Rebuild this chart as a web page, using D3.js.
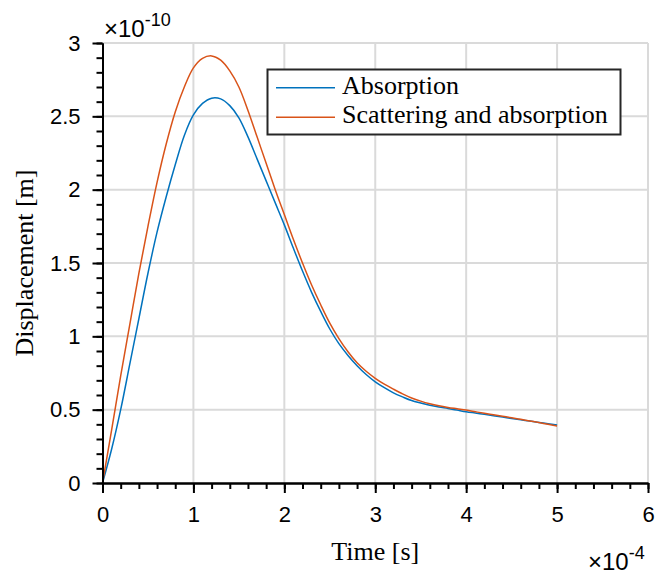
<!DOCTYPE html>
<html>
<head>
<meta charset="utf-8">
<script src="https://cdn.jsdelivr.net/npm/d3@7"></script>
<style>
  body { margin: 0; background: #fff; }
  svg { display: block; }
</style>
</head>
<body>
<div class="container"></div>
<script>
// time in units of 1e-4 s, displacement in units of 1e-10 m
const time = [0, 0.1, 0.2, 0.3, 0.4, 0.5, 0.6, 0.7, 0.8, 0.9,
    1.0, 1.1, 1.2, 1.3, 1.4, 1.5, 1.6, 1.7, 1.8, 1.9,
    2.0, 2.1, 2.2, 2.3, 2.4, 2.5, 2.6, 2.7, 2.8, 2.9,
    3.0, 3.1, 3.2, 3.3, 3.4, 3.5, 3.6, 3.7, 3.8, 3.9,
    4.0, 4.1, 4.2, 4.3, 4.4, 4.5, 4.6, 4.7, 4.8, 4.9, 5.0];

const absorption = [0, 0.23, 0.50, 0.81, 1.12, 1.43, 1.71, 1.95, 2.17, 2.37,
    2.51, 2.588, 2.624, 2.619, 2.573, 2.49, 2.36, 2.21, 2.06, 1.91,
    1.76, 1.60, 1.445, 1.30, 1.17, 1.05, 0.95, 0.87, 0.80, 0.74,
    0.69, 0.65, 0.615, 0.587, 0.562, 0.545, 0.53, 0.518, 0.508, 0.497,
    0.486, 0.477, 0.468, 0.459, 0.45, 0.44, 0.431, 0.422, 0.413, 0.404, 0.395];

const scattering = [0, 0.36, 0.73, 1.08, 1.43, 1.75, 2.05, 2.31, 2.53, 2.70,
    2.83, 2.895, 2.912, 2.883, 2.81, 2.70, 2.54, 2.36, 2.18, 2.00,
    1.83, 1.66, 1.50, 1.35, 1.215, 1.09, 0.985, 0.895, 0.82, 0.762,
    0.714, 0.674, 0.64, 0.608, 0.58, 0.558, 0.54, 0.526, 0.515, 0.506,
    0.497, 0.486, 0.475, 0.465, 0.455, 0.445, 0.434, 0.423, 0.412, 0.40, 0.389];

const seriesNames = ['Absorption', 'Scattering and absorption'];
const seriesColors = ['#0072BD', '#D95319'];

const xTicks = [0, 1, 2, 3, 4, 5, 6];
const yTicks = [0, 0.5, 1, 1.5, 2, 2.5, 3];
const xMinor = d3.range(0, 6.001, 0.2);
const yMinor = d3.range(0, 3.001, 0.1);

const w = 656;
const h = 574;
const margin = { top: 43, right: 8, bottom: 91, left: 102.5 };

const svg = d3.select('.container')
    .append('svg')
    .attr('width', w)
    .attr('height', h);

const x = d3.scaleLinear().domain([0, 6]).range([margin.left, w - margin.right]);
const y = d3.scaleLinear().domain([0, 3]).range([h - margin.bottom, margin.top]);

const sans = "'Liberation Sans', Arial, sans-serif";
const serif = "'Liberation Serif', 'Times New Roman', serif";

// grid
const grid = svg.append('g').attr('stroke', '#dadada').attr('stroke-width', 2);
grid.selectAll('.gx').data(xTicks.slice(1)).join('line')
    .attr('x1', d => x(d)).attr('x2', d => x(d))
    .attr('y1', y(0)).attr('y2', y(3));
grid.selectAll('.gy').data(yTicks.slice(1)).join('line')
    .attr('x1', x(0)).attr('x2', x(6))
    .attr('y1', d => y(d)).attr('y2', d => y(d));

// curves
const line = d3.line()
    .x(d => x(d[0]))
    .y(d => y(d[1]))
    .curve(d3.curveCatmullRom.alpha(0.5));

const series = [
    d3.zip(time, absorption),
    d3.zip(time, scattering)
];

svg.selectAll('.curve').data(series).join('path')
    .attr('class', 'curve')
    .attr('fill', 'none')
    .attr('stroke', (d, i) => seriesColors[i])
    .attr('stroke-width', 1.5)
    .attr('d', line);

// axes
const styleAxis = g => {
    g.selectAll('path.domain').attr('stroke', '#000').attr('stroke-width', 2);
    g.selectAll('.tick line').attr('stroke', '#000').attr('stroke-width', 2);
    g.selectAll('.tick text').attr('fill', '#000').style('font-family', sans).style('font-size', '22px');
};

svg.append('g')
    .attr('transform', `translate(0, ${y(0)})`)
    .call(d3.axisBottom(x).tickValues(xMinor).tickFormat('').tickSize(6).tickSizeOuter(0))
    .call(styleAxis);
svg.append('g')
    .attr('transform', `translate(0, ${y(0)})`)
    .call(d3.axisBottom(x).tickValues(xTicks).tickFormat(d3.format('~g')).tickSize(10).tickSizeOuter(0).tickPadding(13))
    .call(styleAxis);

svg.append('g')
    .attr('transform', `translate(${x(0)}, 0)`)
    .call(d3.axisLeft(y).tickValues(yMinor).tickFormat('').tickSize(6).tickSizeOuter(0))
    .call(styleAxis);
svg.append('g')
    .attr('transform', `translate(${x(0)}, 0)`)
    .call(d3.axisLeft(y).tickValues(yTicks).tickFormat(d3.format('~g')).tickSize(10).tickSizeOuter(0).tickPadding(12))
    .call(styleAxis);

// exponent labels
const expTop = svg.append('text')
    .attr('x', 104)
    .attr('y', 37)
    .style('font-family', sans)
    .style('font-size', '24px');
expTop.append('tspan').text('×10');
expTop.append('tspan').attr('dy', -11).style('font-size', '18px').text('-10');

const expBottom = svg.append('text')
    .attr('x', 588)
    .attr('y', 570)
    .style('font-family', sans)
    .style('font-size', '24px');
expBottom.append('tspan').text('×10');
expBottom.append('tspan').attr('dy', -11).style('font-size', '18px').text('-4');

// axis titles
svg.append('text')
    .attr('x', (x(0) + x(6)) / 2)
    .attr('y', 560)
    .attr('text-anchor', 'middle')
    .style('font-family', serif)
    .style('font-size', '26px')
    .text('Time [s]');

svg.append('text')
    .attr('transform', `translate(33, ${(y(0) + y(3)) / 2}) rotate(-90)`)
    .attr('text-anchor', 'middle')
    .style('font-family', serif)
    .style('font-size', '26px')
    .text('Displacement [m]');

// legend
const legend = svg.append('g');
legend.append('rect')
    .attr('x', 267.5)
    .attr('y', 69.5)
    .attr('width', 353)
    .attr('height', 65)
    .attr('fill', '#fff')
    .attr('stroke', '#262626')
    .attr('stroke-width', 2);

const item = legend.selectAll('.item').data(seriesNames).join('g')
    .attr('transform', (d, i) => `translate(0, ${87.7 + i * 29.6})`);
item.append('line')
    .attr('x1', 276).attr('x2', 335)
    .attr('stroke', (d, i) => seriesColors[i])
    .attr('stroke-width', 1.5);
item.append('text')
    .attr('x', 342)
    .attr('y', 6)
    .style('font-family', serif)
    .style('font-size', '26px')
    .text(d => d);
</script>
</body>
</html>
